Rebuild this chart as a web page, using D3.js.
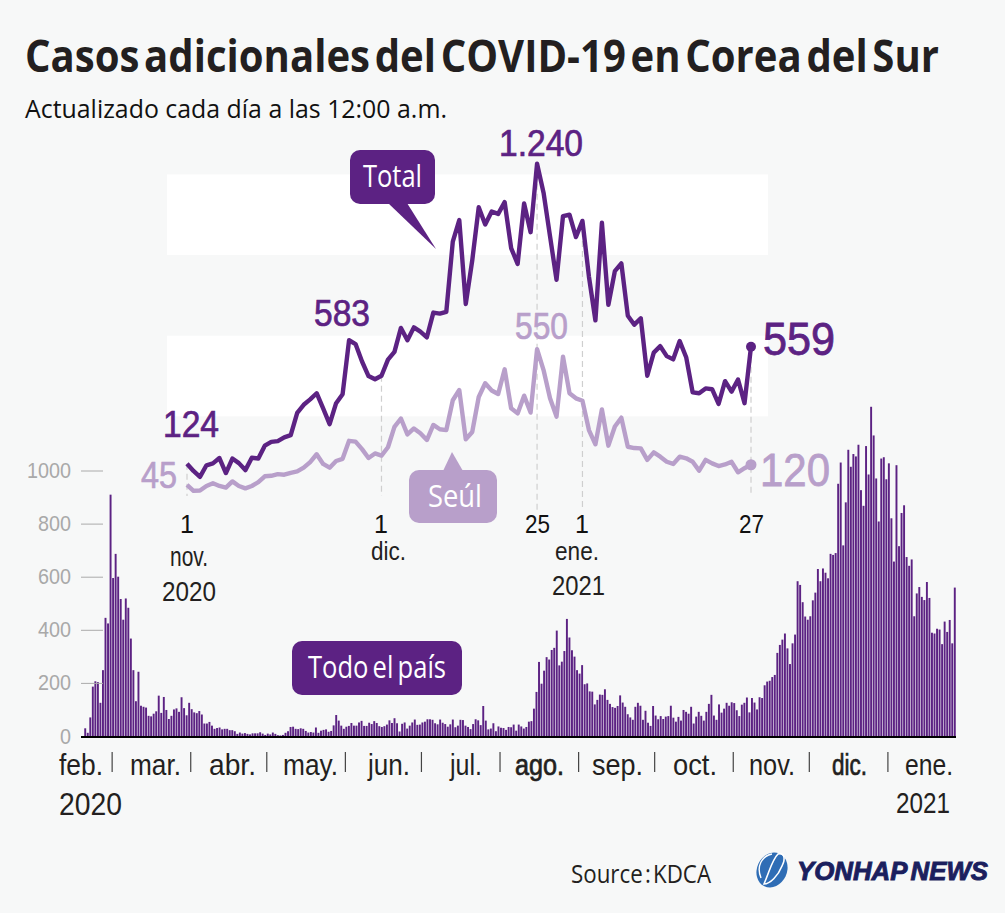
<!DOCTYPE html>
<html>
<head>
<meta charset="utf-8">
<script src="https://cdn.jsdelivr.net/npm/d3@7"></script>
<style>
  html, body { margin: 0; padding: 0; background: #f7f8f8; }
  svg { display: block; }
</style>
</head>
<body>
<svg id="chart" width="1005" height="913"></svg>
<script>
// national daily cases, 19 feb. - 31 oct. 2020
const nationalBefore = [
  29, 12, 70, 186, 206, 203, 125, 248, 445, 424, 909,
  595, 686, 600, 516, 438, 518, 483, 367, 248, 131, 242, 114, 110, 107, 76, 74, 84, 93, 152, 87, 147, 98, 64, 76, 100, 104, 91, 146, 105, 78, 125,
  101, 89, 86, 94, 81, 47, 47, 53, 39, 27, 30, 32, 25, 27, 27, 22, 22, 18, 8, 13, 9, 11, 8, 6, 10, 10, 10, 14, 9, 4,
  9, 6, 13, 8, 3, 2, 4, 12, 18, 34, 35, 27, 26, 29, 27, 19, 13, 15, 13, 32, 12, 20, 23, 25, 16, 19, 40, 79, 58, 39, 27,
  35, 38, 49, 39, 39, 51, 57, 38, 38, 50, 45, 56, 49, 37, 34, 37, 43, 59, 49, 67, 48, 17, 46, 51, 28, 39, 51, 62, 42, 43,
  51, 54, 63, 63, 61, 48, 44, 62, 50, 45, 35, 44, 62, 33, 39, 61, 60, 39, 34, 26, 45, 63, 59, 41, 113, 58, 25, 28, 48, 18, 36,
  31, 30, 23, 34, 33, 43, 20, 43, 36, 28, 34, 54, 56, 103, 166, 279, 197, 246, 297, 288, 324, 332, 397, 266, 280, 320, 441, 371, 323, 299, 248,
  235, 267, 195, 198, 168, 167, 119, 136, 156, 155, 176, 136, 121, 109, 106, 113, 153, 126, 110, 82, 70, 61, 110, 125, 114, 61, 95, 50, 38, 113,
  77, 63, 75, 64, 73, 75, 114, 69, 54, 72, 58, 98, 91, 84, 110, 47, 73, 91, 76, 58, 91, 121, 155, 77, 61, 119, 88, 103, 125, 114, 127
]
// 1 nov. 2020 - 27 ene. 2021
const totalCases = [
  124, 97, 75, 118, 125, 145, 89, 143, 126, 100, 146, 143, 191, 205, 208, 222, 230, 313, 343, 363, 386, 330, 271, 349, 382, 583, 569, 504, 450, 438,
  451, 511, 540, 629, 583, 631, 615, 594, 686, 682, 689, 950, 1030, 718, 880, 1078, 1014, 1062, 1053, 1097, 926, 867, 1092, 985, 1240, 1132, 970, 808, 1045, 1050, 967,
  1027, 820, 657, 1020, 715, 840, 869, 674, 641, 665, 451, 537, 561, 524, 512, 580, 520, 389, 386, 404, 401, 346, 431, 392, 437, 349, 559
]
const seoulCases = [
  45, 23, 24, 41, 51, 41, 35, 58, 41, 32, 41, 55, 77, 79, 85, 83, 90, 95, 109, 130, 159, 123, 109, 134, 142, 209, 206, 178, 145, 162,
  154, 185, 261, 292, 233, 255, 237, 212, 268, 252, 249, 360, 398, 215, 242, 372, 423, 396, 383, 475, 330, 311, 377, 314, 550, 472, 367, 299, 522, 386, 367,
  358, 249, 196, 326, 191, 262, 295, 187, 182, 181, 138, 166, 150, 131, 123, 150, 144, 131, 98, 138, 125, 115, 121, 131, 92, 107, 120
]
const nationalCases = nationalBefore.concat(totalCases)
const yTicks = [0, 200, 400, 600, 800, 1000]
// index of the first day of each month in nationalCases
const monthStarts = [11, 42, 72, 103, 133, 164, 195, 225, 256, 286, 317]
const bandRanges = [[300, 600], [900, 1200]]
// day index in the upper chart that gets a dashed guide
const guideDays = [0, 30, 54, 61, 87]

const DARK = '#5c2283'
const LIGHT = '#b89fca'
const INK = '#231f20'
const NARROW = '"Liberation Sans", Arial, sans-serif'
const HUMAN = '"Open Sans", "Noto Sans", sans-serif'

const svg = d3.select('#chart')

const label = (text, x, y, size, width, opts = {}) => {
  const t = svg.append('text')
    .attr('x', x)
    .attr('y', y)
    .attr('font-size', size)
    .attr('font-family', opts.family || NARROW)
    .attr('font-weight', opts.weight || 400)
    .attr('font-style', opts.style || 'normal')
    .attr('text-anchor', opts.anchor || 'start')
    .attr('fill', opts.fill || INK)
    .text(text)
  if (width) t.attr('textLength', width).attr('lengthAdjust', 'spacingAndGlyphs')
  if (opts.wordSpacing) t.attr('word-spacing', opts.wordSpacing)
  // the original type is a little heavier than the installed regular weight
  if (opts.heavy) t.attr('stroke', opts.fill || INK).attr('stroke-width', opts.heavy)
  if (opts.transform) t.attr('transform', opts.transform)
  return t
}

// scales
const xBar = d3.scaleBand().domain(d3.range(nationalCases.length)).range([84, 956]).paddingInner(0.24).paddingOuter(0.1)
const yBar = d3.scaleLinear().domain([0, 1000]).range([736, 470.5])
const xDay = d3.scaleLinear().domain([0, totalCases.length - 1]).range([187, 751])
const yCase = d3.scaleLinear().domain([0, 1200]).range([497, 174.4])

svg.append('rect').attr('width', 1005).attr('height', 913).attr('fill', '#f7f8f8')

// white bands behind the line chart
svg.selectAll('.band').data(bandRanges).join('rect')
  .attr('class', 'band')
  .attr('x', 167)
  .attr('width', 601)
  .attr('y', (d) => yCase(d[1]))
  .attr('height', (d) => yCase(d[0]) - yCase(d[1]))
  .attr('fill', '#fff')

// smaller size stretched up, so the natural text width stays inside the page
label('Casos adicionales del COVID-19 en Corea del Sur', 0, 0, 42, 914, {
  family: HUMAN, weight: 700, wordSpacing: -6, transform: 'translate(25,72) scale(1,1.07)',
})
label('Actualizado cada día a las 12:00 a.m.', 25, 118, 25, 422, { family: HUMAN, fill: '#111' })

// bars
svg.selectAll('.bar').data(nationalCases).join('rect')
  .attr('class', 'bar')
  .attr('x', (d, i) => xBar(i))
  .attr('width', xBar.bandwidth())
  .attr('y', (d) => yBar(d))
  .attr('height', (d) => yBar(0) - yBar(d))
  .attr('fill', DARK)

// left axis
const yAxis = svg.append('g')
  .attr('transform', 'translate(103,0)')
  .call(d3.axisLeft(yBar).tickValues(yTicks).tickFormat(d3.format('d')).tickSize(22).tickPadding(10))
yAxis.select('.domain').remove()
yAxis.selectAll('line').attr('stroke', '#aaa')
yAxis.selectAll('text')
  .attr('font-size', 22)
  .attr('font-family', NARROW)
  .attr('fill', '#a9a9a9')
  .attr('textLength', (d) => String(d).length * 11)
  .attr('lengthAdjust', 'spacingAndGlyphs')

// baseline and month ticks
svg.append('line').attr('x1', 81).attr('x2', 956).attr('y1', yBar(0) + 1).attr('y2', yBar(0) + 1)
  .attr('stroke', '#000').attr('stroke-width', 2)
svg.selectAll('.month-tick').data(monthStarts).join('line')
  .attr('class', 'month-tick')
  .attr('x1', (d) => xBar(d))
  .attr('x2', (d) => xBar(d))
  .attr('y1', 752)
  .attr('y2', 772)
  .attr('stroke', '#444')
  .attr('stroke-width', 1.2)

const monthLabels = [
  ['feb.', 59, 44], ['mar.', 130, 51], ['abr.', 209, 47], ['may.', 283, 55], ['jun.', 368, 42], ['jul.', 450, 32],
  ['ago.', 515, 49], ['sep.', 592, 51], ['oct.', 673, 44], ['nov.', 749, 46], ['dic.', 832, 35], ['ene.', 905, 48],
]
monthLabels.forEach(([text, x, w]) => {
  const dark = text === 'ago.' || text === 'dic.'
  label(text, x, 775, 29, w, { heavy: dark ? 0.7 : 0 })
})
label('2020', 59, 815, 31, 63)
label('2021', 896, 813, 30, 54)

// dashed guides
svg.selectAll('.guide').data(guideDays).join('line')
  .attr('class', 'guide')
  .attr('x1', (d) => xDay(d))
  .attr('x2', (d) => xDay(d))
  .attr('y1', (d) => yCase(totalCases[d]))
  .attr('y2', (d) => (d === 54 || d === 61 ? 510 : 496))
  .attr('stroke', '#cfcfcf')
  .attr('stroke-width', 1.2)
  .attr('stroke-dasharray', '6 4')

// lines
const line = d3.line().x((d, i) => xDay(i)).y((d) => yCase(d))
svg.append('path').datum(seoulCases).attr('d', line)
  .attr('fill', 'none').attr('stroke', LIGHT).attr('stroke-width', 4.4).attr('stroke-linejoin', 'round')
svg.append('path').datum(totalCases).attr('d', line)
  .attr('fill', 'none').attr('stroke', DARK).attr('stroke-width', 4.4).attr('stroke-linejoin', 'round')
svg.append('circle').attr('cx', xDay(87)).attr('cy', yCase(559)).attr('r', 5).attr('fill', DARK)
svg.append('circle').attr('cx', xDay(87)).attr('cy', yCase(120)).attr('r', 5.5).attr('fill', LIGHT)

// value labels
label('124', 163, 437, 37, 56, { fill: DARK, heavy: 0.7 })
label('45', 141, 488, 37, 36, { fill: LIGHT, heavy: 0.7 })
label('583', 314, 326, 37, 56, { fill: DARK, heavy: 0.7 })
label('1.240', 499, 156, 37, 84, { fill: DARK, heavy: 0.7 })
label('550', 515, 339, 37, 53, { fill: LIGHT, heavy: 0.7 })
label('559', 763, 355, 46, 72, { fill: DARK, heavy: 0.8 })
label('120', 760, 486, 46, 70, { fill: LIGHT, heavy: 0.8 })

// date labels of the line chart
label('1', 187, 533, 25, 0, { anchor: 'middle', fill: '#111' })
label('nov.', 170, 566, 27, 38)
label('2020', 162, 601, 27, 54)
label('1', 381, 533, 25, 0, { anchor: 'middle', fill: '#111' })
label('dic.', 371, 560, 25, 35)
label('25', 525, 533, 25, 25, { fill: '#111' })
label('1', 582, 533, 25, 0, { anchor: 'middle', fill: '#111' })
label('ene.', 555, 560, 25, 44)
label('2021', 552, 595, 27, 53)
label('27', 739, 533, 25, 25, { fill: '#111' })

// callouts
const callout = (x, y, w, h, tail, fill, text, tx, ty, tw, wordSpacing) => {
  svg.append('path').attr('d', d3.line()(tail)).attr('fill', fill)
  svg.append('rect').attr('x', x).attr('y', y).attr('width', w).attr('height', h).attr('rx', 10).attr('fill', fill)
  label(text, tx, ty, 31, tw, { family: HUMAN, fill: '#fff', wordSpacing })
}
callout(350, 150, 85, 54, [[388, 203], [407, 203], [436, 249]], DARK, 'Total', 363, 187, 59)
callout(409, 470, 88, 53, [[443, 471], [463, 471], [452, 452]], LIGHT, 'Seúl', 428, 507, 54)
callout(292, 641, 170, 54, [], DARK, 'Todo el país', 308, 678, 138, -3)

// source and logo
label('Source : KDCA', 571, 883, 25, 140, { family: HUMAN, wordSpacing: -4 })
svg.append('ellipse').attr('cx', 772).attr('cy', 870).attr('rx', 15).attr('ry', 18)
  .attr('transform', 'rotate(25 772 870)').attr('fill', '#2f6db5')
svg.append('path').attr('d', 'M764 884 C770 870 772 860 778 854 C784 852 786 858 782 866 C778 876 770 884 764 884 Z')
  .attr('fill', 'none').attr('stroke', '#fff').attr('stroke-width', 1.6)
svg.append('path').attr('d', 'M761 878 C756 866 762 856 772 854')
  .attr('fill', 'none').attr('stroke', '#fff').attr('stroke-width', 1.4)
label('YONHAP NEWS', 797, 880, 25, 191, { weight: 700, style: 'italic', fill: '#1b1f5e', heavy: 0.9, wordSpacing: -3 })
</script>
</body>
</html>
